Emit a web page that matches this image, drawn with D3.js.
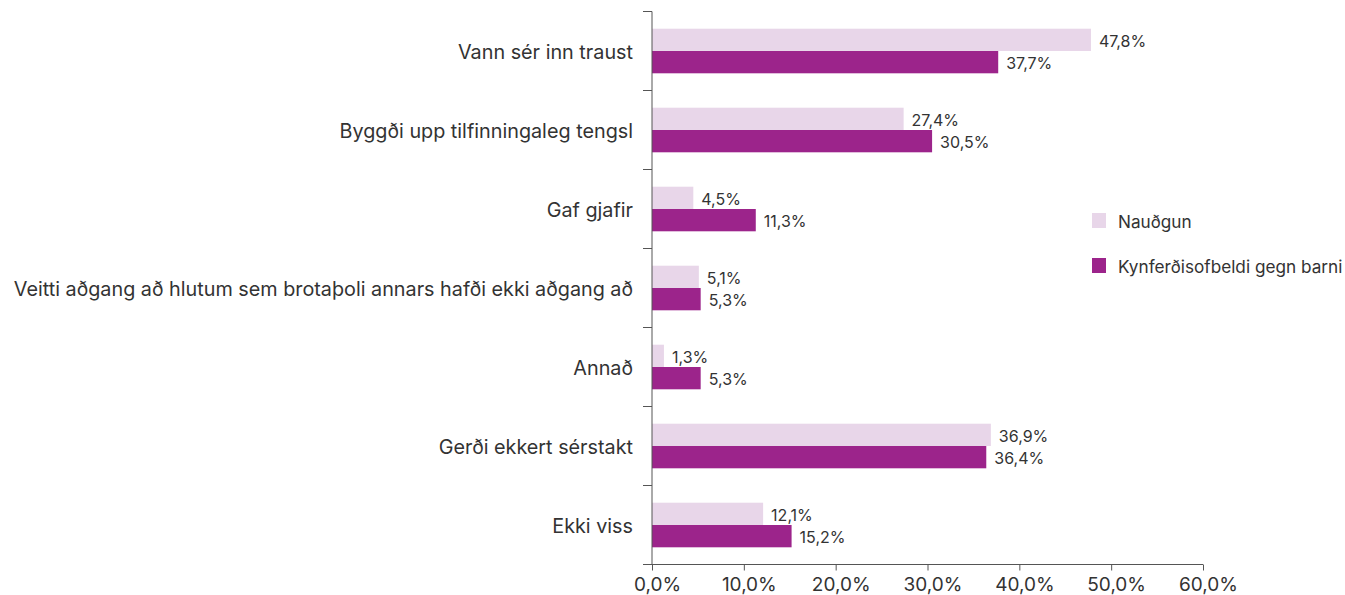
<!DOCTYPE html>
<html>
<head>
<meta charset="utf-8">
<script src="https://cdn.jsdelivr.net/npm/d3@7/dist/d3.min.js"></script>
<style>
  html, body { margin: 0; padding: 0; background: #fff; }
  svg { display: block; font-family: Inter, "Noto Sans", sans-serif; }
</style>
</head>
<body>
<svg id="chart" width="1345" height="595"></svg>
<script>
// Categories (top to bottom) and the two series, in percent
const categories = [
  "Vann sér inn traust",
  "Byggði upp tilfinningaleg tengsl",
  "Gaf gjafir",
  "Veitti aðgang að hlutum sem brotaþoli annars hafði ekki aðgang að",
  "Annað",
  "Gerði ekkert sérstakt",
  "Ekki viss"
];
const seriesNames = ["Nauðgun", "Kynferðisofbeldi gegn barni"];
const naudgun = [47.8, 27.4, 4.5, 5.1, 1.3, 36.9, 12.1];
const barn = [37.7, 30.5, 11.3, 5.3, 5.3, 36.4, 15.2];
const xTicks = [0, 10, 20, 30, 40, 50, 60];

const colors = ["#e8d6e9", "#9c248b"];
const textColor = "#333";
const fmt = v => v.toFixed(1).replace(".", ",") + "%";

const svg = d3.select("#chart");
const plotLeft = 652, plotRight = 1203, plotTop = 11.5, plotBottom = 564.5;

const x = d3.scaleLinear().domain([0, 60]).range([plotLeft, plotRight]);
const y = d3.scaleBand().domain(categories).range([plotTop, plotBottom]);
const barH = 22.3;
const offset = (y.bandwidth() - 2 * barH) / 2; // center the pair of bars in each band

const series = [naudgun, barn];

// Bars and value labels
series.forEach((vals, si) => {
  svg.append("g").selectAll("rect")
    .data(categories)
    .join("rect")
    .attr("x", x(0))
    .attr("y", d => y(d) + offset + si * barH)
    .attr("width", (d, i) => x(vals[i]) - x(0))
    .attr("height", barH)
    .attr("fill", colors[si]);

  svg.append("g").selectAll("text")
    .data(categories)
    .join("text")
    .attr("x", (d, i) => x(vals[i]) + 8)
    .attr("y", d => y(d) + offset + si * barH + barH / 2 + 1.5)
    .attr("dy", "0.36em")
    .attr("font-size", 16)
    .attr("fill", textColor)
    .text((d, i) => fmt(vals[i]));
});

// X axis
const xAxis = svg.append("g")
  .attr("transform", `translate(0,${plotBottom})`)
  .call(d3.axisBottom(x).tickValues(xTicks).tickSize(6).tickSizeOuter(0).tickFormat(fmt));
xAxis.select(".domain").attr("stroke", "#555").attr("d", `M${plotLeft - 9},0H${plotRight}`);
xAxis.selectAll(".tick line").attr("stroke", "#555");
xAxis.selectAll(".tick text")
  .attr("font-size", 19).attr("fill", textColor)
  .attr("x", 5).attr("y", 13).attr("dy", "0.71em")
  .attr("font-family", "Inter, 'Noto Sans', sans-serif");

// Y axis: line with ticks at the category boundaries
const yg = svg.append("g");
yg.append("line")
  .attr("x1", plotLeft).attr("x2", plotLeft)
  .attr("y1", plotTop).attr("y2", plotBottom)
  .attr("stroke", "#555");
const bounds = categories.map(c => y(c));
yg.selectAll("line.tk")
  .data(bounds)
  .join("line")
  .attr("class", "tk")
  .attr("x1", plotLeft - 9).attr("x2", plotLeft)
  .attr("y1", d => d).attr("y2", d => d)
  .attr("stroke", "#555");

// Category labels
svg.append("g").selectAll("text")
  .data(categories)
  .join("text")
  .attr("x", 633)
  .attr("y", d => y(d) + y.bandwidth() / 2 + 1)
  .attr("dy", "0.36em")
  .attr("text-anchor", "end")
  .attr("font-size", 19.8)
  .attr("fill", textColor)
  .text(d => d);

// Legend
const lg = svg.append("g").attr("transform", "translate(1092,213)");
seriesNames.forEach((name, i) => {
  lg.append("rect")
    .attr("x", 0).attr("y", i * 45)
    .attr("width", 14).attr("height", 15)
    .attr("fill", colors[i]);
  lg.append("text")
    .attr("x", 26).attr("y", i * 45 + 8.5)
    .attr("dy", "0.36em")
    .attr("font-size", 17.2)
    .attr("fill", textColor)
    .text(name);
});
</script>
</body>
</html>
